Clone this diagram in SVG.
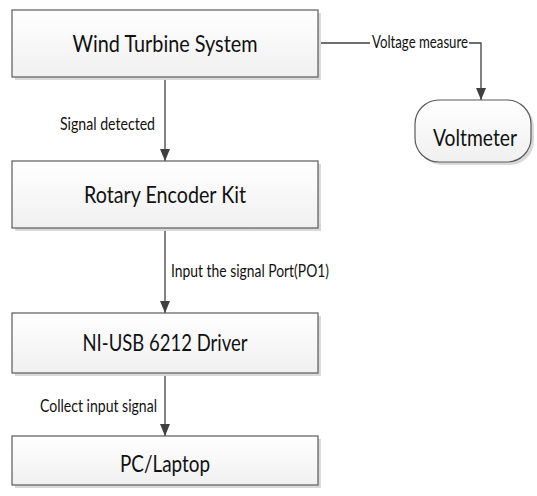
<svg xmlns="http://www.w3.org/2000/svg" width="537" height="496" viewBox="0 0 537 496">
<defs>
<linearGradient id="g" x1="0" y1="0" x2="0" y2="1">
<stop offset="0" stop-color="#ffffff"/>
<stop offset="1" stop-color="#f0f0f0"/>
</linearGradient>
<marker id="ah" markerWidth="12" markerHeight="10" refX="12" refY="5" orient="auto" markerUnits="userSpaceOnUse" viewBox="0 0 12 10">
<path d="M0,0 L12,5 L0,10 Z" fill="#404040"/>
</marker>
</defs>
<style>
.box{fill:url(#g);stroke:#5a5a5a;stroke-width:1.2}
.sh{fill:#d9d9d9}
.t{font-family:Lato,"Open Sans",sans-serif;font-size:24px;fill:#111;text-anchor:middle}
.l{font-family:Lato,"Open Sans",sans-serif;font-size:17px;fill:#111}
.c{fill:none;stroke:#404040;stroke-width:1.3}
</style>
<rect width="537" height="496" fill="#ffffff"/>
<g id="connectors">
<path class="c" d="M165,77 V161" marker-end="url(#ah)"/>
<path class="c" d="M165,228 V313" marker-end="url(#ah)"/>
<path class="c" d="M165,373 V436" marker-end="url(#ah)"/>
<path class="c" d="M318,43 H481 V100" marker-end="url(#ah)"/>
<rect x="370" y="34" width="99" height="18" fill="#ffffff"/>
<text class="l" x="60" y="130" textLength="95" lengthAdjust="spacingAndGlyphs">Signal detected</text>
<text class="l" x="171" y="277" textLength="158" lengthAdjust="spacingAndGlyphs">Input the signal Port(PO1)</text>
<text class="l" x="40" y="412" textLength="117" lengthAdjust="spacingAndGlyphs">Collect input signal</text>
<text class="l" x="372" y="48" font-size="15" textLength="96" lengthAdjust="spacingAndGlyphs">Voltage measure</text>
</g>
<g id="wind">
<rect class="sh" x="15" y="13" width="306" height="67"/>
<rect class="box" x="12" y="10" width="306" height="67"/>
<text class="t" x="165" y="52" textLength="185" lengthAdjust="spacingAndGlyphs">Wind Turbine System</text>
</g>
<g id="encoder">
<rect class="sh" x="15" y="164" width="306" height="67"/>
<rect class="box" x="12" y="161" width="306" height="67"/>
<text class="t" x="165" y="203" textLength="162" lengthAdjust="spacingAndGlyphs">Rotary Encoder Kit</text>
</g>
<g id="driver">
<rect class="sh" x="15" y="316" width="306" height="60"/>
<rect class="box" x="12" y="313" width="306" height="60"/>
<text class="t" x="165" y="351" textLength="165" lengthAdjust="spacingAndGlyphs">NI-USB 6212 Driver</text>
</g>
<g id="pc">
<rect class="sh" x="15" y="439" width="306" height="49"/>
<rect class="box" x="12" y="436" width="306" height="49"/>
<text class="t" x="165" y="472" textLength="90" lengthAdjust="spacingAndGlyphs">PC/Laptop</text>
</g>
<g id="voltmeter">
<rect class="sh" x="418" y="103" width="116" height="62" rx="24"/>
<rect class="box" x="415" y="100" width="116" height="62" rx="24"/>
<text class="t" x="475" y="146" font-size="23" textLength="84" lengthAdjust="spacingAndGlyphs">Voltmeter</text>
</g>
</svg>
